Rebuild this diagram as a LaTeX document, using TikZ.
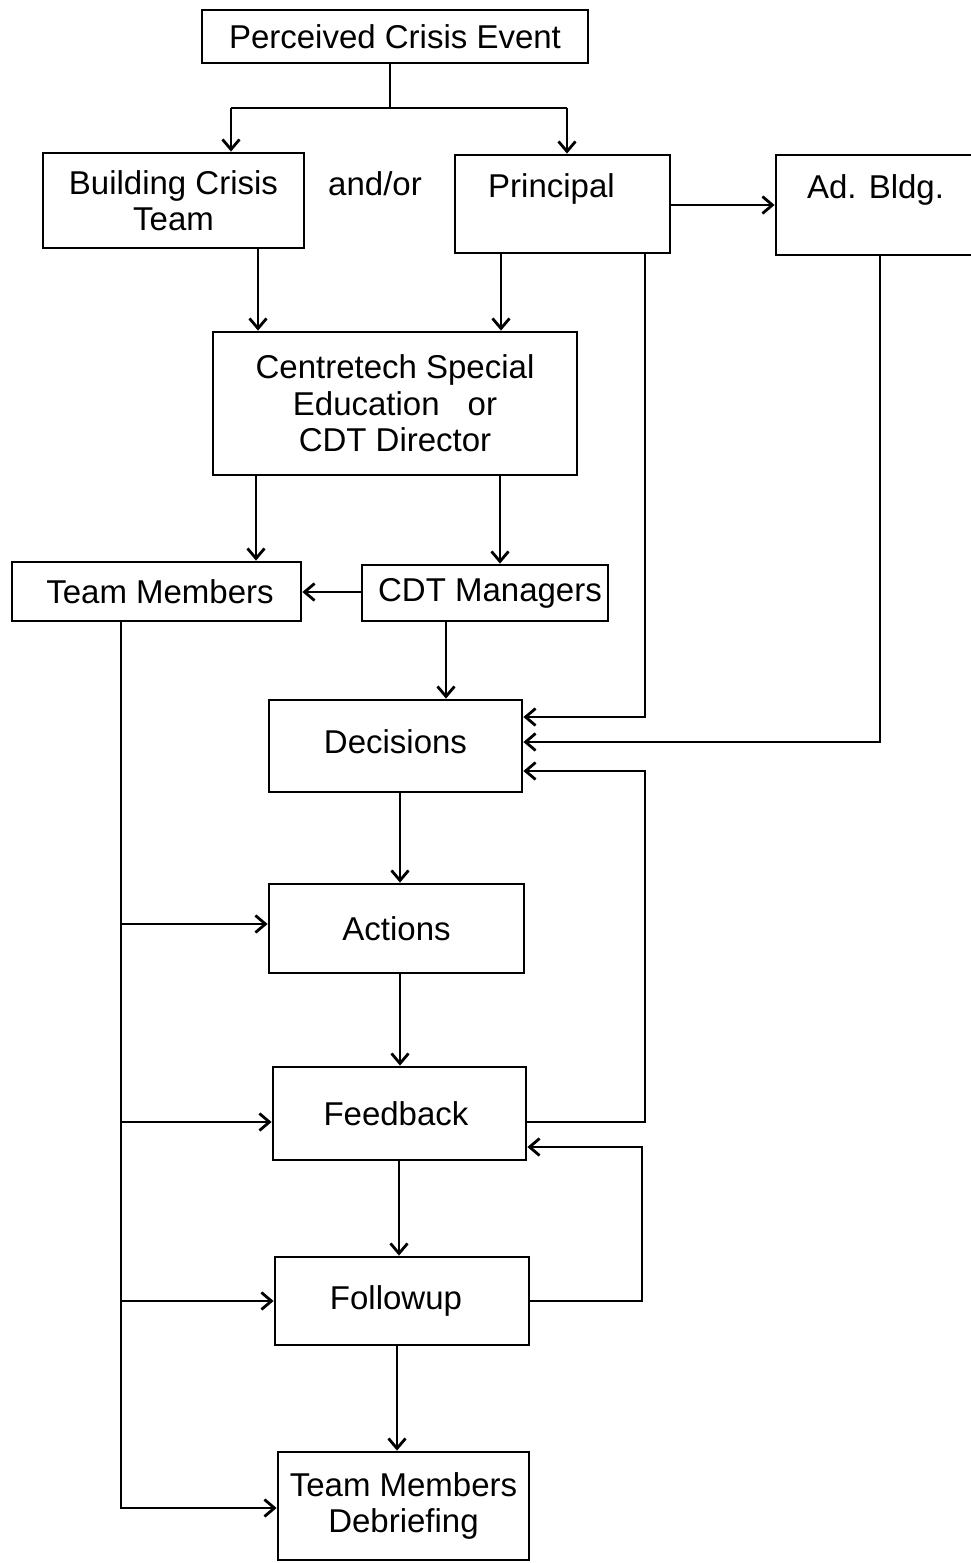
\documentclass[tikz,border=0pt]{standalone}
\usepackage{fontspec}
\setmainfont{Liberation Sans}
\usetikzlibrary{arrows.meta}
\begin{document}
\begin{tikzpicture}[x=1pt,y=-1pt,
  line width=2.8pt,
  >={Straight Barb[length=10pt,width=17pt]},
  every node/.style={font=\fontsize{33}{36.5}\selectfont},
  box/.style={draw,rectangle,inner sep=0pt,align=center},
  conn/.style={->},
  ]
\useasboundingbox (0,0) rectangle (971,1563);
\fill[white] (0,0) rectangle (971,1563);
% boxes
\node[box,minimum width=386pt,minimum height=53pt] (pce) at (395,36.5) {Perceived Crisis Event};
\node[box,minimum width=261pt,minimum height=95pt] (bct) at (173.5,200.5) {Building Crisis\\Team};
\node (andor) at (375,184) {and/or};
\node[box,minimum width=215pt,minimum height=98pt] (prin) at (562.5,204) {\hspace*{-22pt}Principal\\\mbox{}};
\node[box,minimum width=209pt,minimum height=100pt] (ad) at (880.5,205) {\hspace*{-10pt}Ad. Bldg.\\\mbox{}};
\node[box,minimum width=364pt,minimum height=143pt] (cen) at (395,403.5) {Centretech Special\\Education\hspace{28pt}or\\CDT Director};
\node[box,minimum width=289pt,minimum height=59pt] (tm) at (156.5,591.5) {\hspace*{7pt}Team Members};
\node[box,minimum width=246pt,minimum height=56pt] (cdt) at (485,593) {\hspace*{10pt}CDT Managers};
\node[box,minimum width=253pt,minimum height=92pt] (dec) at (395.5,746) {\raisebox{8pt}{Decisions}};
\node[box,minimum width=255pt,minimum height=89pt] (act) at (396.5,928.5) {Actions};
\node[box,minimum width=253pt,minimum height=93pt] (fb) at (399.5,1113.5) {\hspace*{-7pt}Feedback};
\node[box,minimum width=254pt,minimum height=88pt] (fu) at (402,1301) {\hspace*{-12pt}Followup};
\node[box,minimum width=251pt,minimum height=108pt] (deb) at (403.5,1506) {Team Members\\Debriefing};
% helper coordinates
\coordinate (split) at (390,108);
\coordinate (xa) at (231,0);
\coordinate (xb) at (567,0);
\coordinate (x258) at (258,0);
\coordinate (x501) at (501,0);
\coordinate (x645) at (645,0);
\coordinate (x880) at (880,0);
\coordinate (x256) at (256,0);
\coordinate (x500) at (500,0);
\coordinate (x446) at (446,0);
\coordinate (x121) at (121,0);
\coordinate (x400) at (400,0);
\coordinate (x399) at (399,0);
\coordinate (x397) at (397,0);
\coordinate (x642) at (642,0);
\coordinate (y717) at (0,717);
\coordinate (y742) at (0,742);
\coordinate (y771) at (0,771);
\coordinate (y924) at (0,924);
\coordinate (y1122) at (0,1122);
\coordinate (y1147) at (0,1147);
\coordinate (y1301) at (0,1301);
\coordinate (y1508) at (0,1508);
\coordinate (y205) at (0,205);
\coordinate (y592) at (0,592);
% connectors
\draw (pce.south -| split) -- (split);
\draw[conn] (split -| xa) -- (bct.north -| xa);
\draw[conn] (split -| xb) -- (prin.north -| xb);
\draw (split -| xa) -- (split -| xb);
\draw[conn] (prin.east |- y205) -- (ad.west |- y205);
\draw[conn] (bct.south -| x258) -- (cen.north -| x258);
\draw[conn] (prin.south -| x501) -- (cen.north -| x501);
\draw[conn] (prin.south -| x645) -- (x645 |- y717) -- (dec.east |- y717);
\draw[conn] (ad.south -| x880) -- (x880 |- y742) -- (dec.east |- y742);
\draw[conn] (cen.south -| x256) -- (tm.north -| x256);
\draw[conn] (cen.south -| x500) -- (cdt.north -| x500);
\draw[conn] (cdt.west |- y592) -- (tm.east |- y592);
\draw[conn] (cdt.south -| x446) -- (dec.north -| x446);
\draw[conn] (tm.south -| x121) -- (x121 |- y1508) -- (deb.west |- y1508);
\draw[conn] (x121 |- y924) -- (act.west |- y924);
\draw[conn] (x121 |- y1122) -- (fb.west |- y1122);
\draw[conn] (x121 |- y1301) -- (fu.west |- y1301);
\draw[conn] (dec.south -| x400) -- (act.north -| x400);
\draw[conn] (act.south -| x400) -- (fb.north -| x400);
\draw[conn] (fb.east |- y1122) -- (x645 |- y1122) -- (x645 |- y771) -- (dec.east |- y771);
\draw[conn] (fu.east |- y1301) -- (x642 |- y1301) -- (x642 |- y1147) -- (fb.east |- y1147);
\draw[conn] (fb.south -| x399) -- (fu.north -| x399);
\draw[conn] (fu.south -| x397) -- (deb.north -| x397);
\end{tikzpicture}
\end{document}
